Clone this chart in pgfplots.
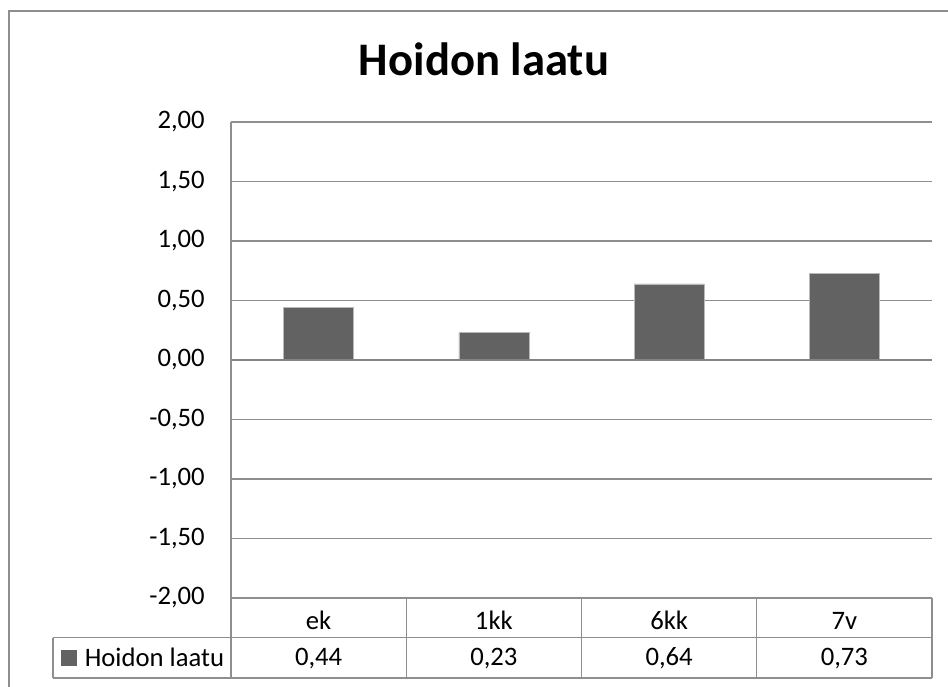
\documentclass[border=0pt]{standalone}
\usepackage{fontspec}
\setmainfont{Carlito}
\usepackage{pgfplots}
\usepackage{pgfplotstable}
\pgfplotsset{compat=1.18}

\definecolor{barcol}{HTML}{626262}
\definecolor{gridcol}{HTML}{8E8E8E}
\definecolor{zerocol}{HTML}{848484}

\pgfplotstableread{
x  label  value
0  ek     0.44
1  1kk    0.23
2  6kk    0.64
3  7v     0.73
}\laatu

\newcommand{\tabfont}{\fontsize{20}{23}\selectfont}

\begin{document}
\begin{tikzpicture}
% page frame: 948 x 686 px at 0.75pt per px
\useasboundingbox (0,0) rectangle (711pt,-514.5pt);
% outer chart border (right and bottom edges fall outside the page)
\draw[gridcol, line width=1.5pt] (6.4pt,-520pt) -- (6.4pt,-7.9pt) -- (720pt,-7.9pt);
% title
\node[anchor=base, font=\fontsize{35}{40}\selectfont\bfseries] at (363pt,-56.25pt) {Hoidon laatu};

\begin{axis}[
  at={(173.25pt,-91.5pt)}, anchor=north west,
  scale only axis, width=525.75pt, height=357pt,
  xmin=-0.5, xmax=3.5, ymin=-2, ymax=2,
  clip=false,
  axis line style={draw=none},
  xtick={0,1,2,3},
  xticklabels={ek,1kk,6kk,7v},
  xtick style={draw=none}, ytick style={draw=none},
  ytick={-2,-1.5,...,2},
  ymajorgrids,
  grid style={gridcol, line width=1pt},
  /pgf/number format/assume math mode=true,
  yticklabel={\pgfmathprintnumber[fixed,fixed zerofill,precision=2,use comma]{\tick}},
  yticklabel style={anchor=east, inner sep=0pt, xshift=-19.5pt},
  xticklabel style={anchor=base, inner sep=0pt, yshift=-19.7pt},
  tick label style={font=\tabfont},
  ybar, bar width=52.5pt,
  legend style={at={(-0.2425,-0.1255)}, anchor=west, draw=none, fill=none,
    inner sep=0pt, font=\tabfont,
    /tikz/every odd column/.append style={column sep=4pt}},
  legend image code/.code={\fill[barcol] (0pt,-5.6pt) rectangle (11.25pt,5.6pt);},
]
\addplot[fill=barcol, draw=gray!55, line width=0.4pt] table[x=x, y=value] {\laatu};
\addlegendentry{Hoidon laatu}

% zero line
\draw[zerocol, line width=1.4pt] (axis cs:-0.5,0) -- (axis cs:3.5,0);
% left axis line, continued through the data table
\draw[gridcol, line width=1pt] (axis cs:-0.5,2) -- (axis cs:-0.5,-2.672);
% data table grid
\draw[gridcol, line width=1pt] (axis cs:-1.516,-2.332) -- (axis cs:3.5,-2.332);
\draw[gridcol, line width=1pt] (axis cs:-1.516,-2.672) -- (axis cs:3.5,-2.672);
\draw[gridcol, line width=1pt] (axis cs:-1.516,-2.332) -- (axis cs:-1.516,-2.672);
\draw[gridcol, line width=1pt] (axis cs:0.5,-2) -- (axis cs:0.5,-2.672);
\draw[gridcol, line width=1pt] (axis cs:1.5,-2) -- (axis cs:1.5,-2.672);
\draw[gridcol, line width=1pt] (axis cs:2.5,-2) -- (axis cs:2.5,-2.672);
\draw[gridcol, line width=1pt] (axis cs:3.5,-2) -- (axis cs:3.5,-2.672);
% value row of the data table
\node[font=\tabfont, anchor=base] at (axis cs:0,-2.563) {0,44};
\node[font=\tabfont, anchor=base] at (axis cs:1,-2.563) {0,23};
\node[font=\tabfont, anchor=base] at (axis cs:2,-2.563) {0,64};
\node[font=\tabfont, anchor=base] at (axis cs:3,-2.563) {0,73};
\end{axis}
\end{tikzpicture}
\end{document}
